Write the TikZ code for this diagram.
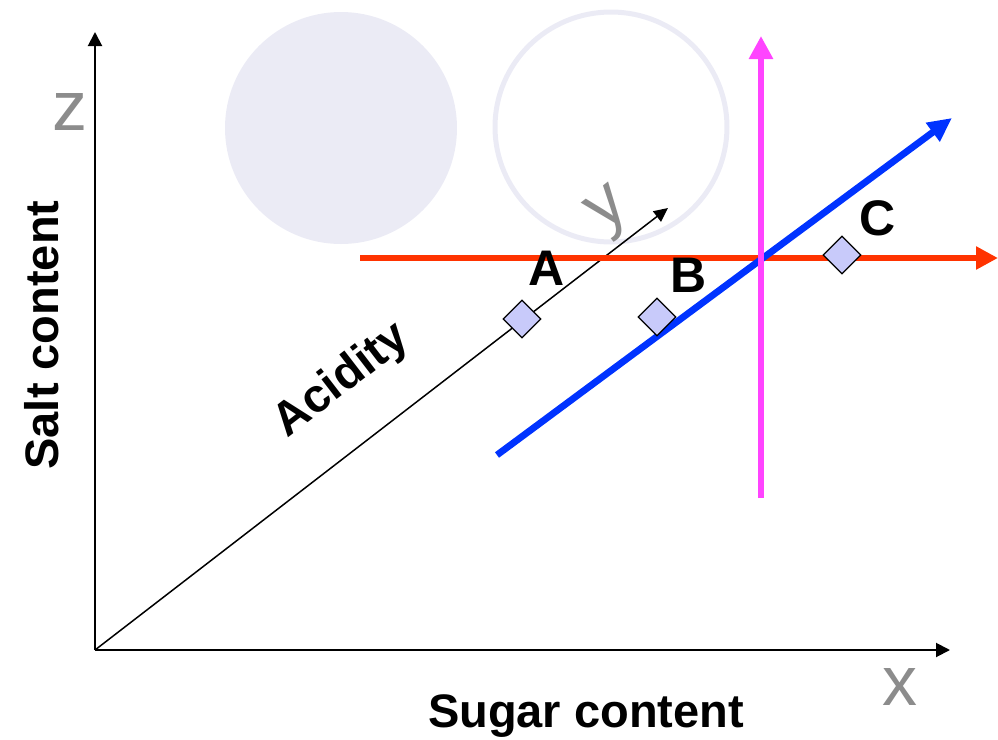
\documentclass[tikz,border=0pt]{standalone}
\usepackage{fontspec}
\setmainfont{Liberation Sans}
\usetikzlibrary{arrows.meta,shapes.geometric}
\definecolor{cred}{HTML}{FF3300}
\definecolor{cmag}{HTML}{FF44FF}
\definecolor{cblue}{HTML}{0033FF}
\definecolor{cdiam}{HTML}{C8CAFA}
\definecolor{ccirc}{HTML}{EBEBF5}
\definecolor{cgray}{HTML}{8C8C8C}
\tikzset{
  axis/.style={line width=1pt,-{Triangle[length=7pt,width=7pt]}},
  thick line/.style={line width=3pt},
  pt/.style={shape=diamond,draw=black,line width=0.6pt,fill=cdiam,inner sep=0pt,minimum width=19pt,minimum height=19pt},
  bigl/.style={font=\fontsize{23.5pt}{26pt}\selectfont\bfseries},
  ptl/.style={font=\fontsize{25pt}{28pt}\selectfont\bfseries},
  axl/.style={font=\fontsize{35pt}{38pt}\selectfont,text=cgray,inner sep=0pt},
}
\begin{document}
\begin{tikzpicture}[x=0.5pt,y=-0.5pt]
\useasboundingbox (0,0) rectangle (998,740);
% circles
\fill[ccirc] (341,128) ellipse [x radius=116, y radius=116];
\draw[ccirc,line width=2.5pt] (611,127) ellipse [x radius=116, y radius=115];
% axes
\coordinate (O) at (95,650);
\coordinate (Zend) at (95,32);
\coordinate (Xend) at (950,650);
\coordinate (Yend) at (668,208);
\draw[axis] (O) -- (Zend);
\draw[axis] (O) -- (Xend);
\draw[line width=0.75pt,-{Triangle[length=7pt,width=6.5pt]}] (O) -- (Yend);
\node[axl] (zl) at (70,112) {z};
\node[axl] (xl) at (900,687) {x};
\node[axl,rotate=37.6] (yl) at (611,213) {y};
% labels
\node[bigl,rotate=90] (salt) at (42,335) {Salt content};
\node[bigl] (sugar) at (586,716) {Sugar content};
\node[bigl,rotate=37.6,inner sep=0pt] (acid) at (342,381) {Acidity};
% coloured lines
\coordinate (r1) at (360,258);
\coordinate (r2) at (998,258);
\coordinate (m1) at (761,498);
\coordinate (m2) at (761,36);
\coordinate (b1) at (497,455);
\coordinate (b2) at (952,118);
\draw[thick line,cred,-{Triangle[length=11pt,width=11pt]}] (r1) -- (r2);
\draw[line width=3.4pt,cblue,-{Triangle[length=12pt,width=11pt]}] (b1) -- (b2);
\draw[thick line,cmag,-{Triangle[length=11.5pt,width=11.5pt]}] (m1) -- (m2);
% points
\node[pt] (A) at (522,319) {};
\node[pt] (B) at (657,317) {};
\node[pt] (C) at (842,255) {};
\node[ptl] (Al) at (547,268) {A};
\node[ptl] (Bl) at (689,275) {B};
\node[ptl] (Cl) at (878,218) {C};
\end{tikzpicture}
\end{document}
